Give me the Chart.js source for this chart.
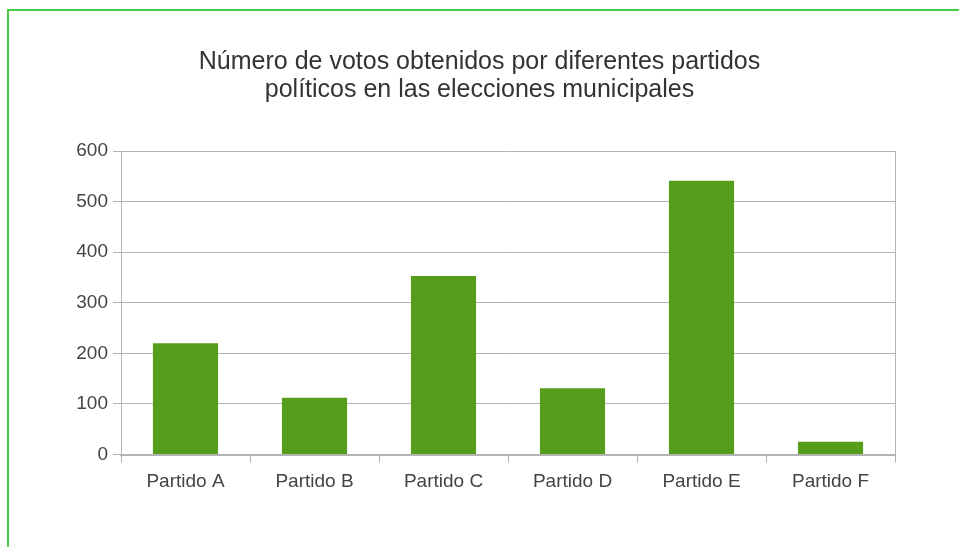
<!DOCTYPE html>
<html>
<head>
<meta charset="utf-8">
<script src="https://cdn.jsdelivr.net/npm/chart.js@4"></script>
<style>
  html, body { margin: 0; padding: 0; background: #fff; }
  #wrap { position: relative; width: 959px; height: 547px; overflow: hidden; }
  #frame { position: absolute; left: 7px; top: 9px; width: 1000px; height: 600px;
           border-left: 2px solid #47cc47; border-top: 2px solid #47cc47; }
  canvas { position: absolute; left: 0; top: 0; }
</style>
</head>
<body>
<div id="wrap">
  <canvas id="chart" width="959" height="547"></canvas>
  <div id="frame"></div>
</div>
<script>
// datos del gráfico
var partidos = ['Partido A', 'Partido B', 'Partido C', 'Partido D', 'Partido E', 'Partido F'];
var votos = [220, 112, 353, 131, 541, 25];
var titulo = ['Número de votos obtenidos por diferentes partidos', 'políticos en las elecciones municipales'];

var gris = '#b3b3b3';
var texto = '#444444';

var ctx = document.getElementById('chart').getContext('2d');
var myChart = new Chart(ctx, {
    type: 'bar',
    data: {
        labels: partidos,
        datasets: [{
            data: votos,
            backgroundColor: '#579d1c',
            borderWidth: 0,
            barPercentage: 1,
            categoryPercentage: 0.505
        }]
    },
    options: {
        responsive: false,
        animation: false,
        layout: { padding: 0 },
        plugins: {
            legend: { display: false },
            tooltip: { enabled: false },
            title: {
                display: true,
                text: titulo,
                color: '#333333',
                font: { family: 'Liberation Sans', size: 25, weight: 'normal', lineHeight: 1.12 },
                padding: { top: 48, bottom: 47 }
            }
        },
        scales: {
            x: {
                grid: {
                    offset: true,
                    color: function(c) { return (c.index === 6) ? gris : 'rgba(0,0,0,0)'; },
                    tickColor: gris,
                    tickLength: 8
                },
                border: { color: gris, width: 2 },
                ticks: {
                    color: texto,
                    padding: 8,
                    font: { family: 'Liberation Sans', size: 19 }
                },
                afterFit: function(s) { s.height = 92.5; }
            },
            y: {
                min: 0,
                max: 600,
                ticks: {
                    stepSize: 100,
                    color: texto,
                    padding: 5,
                    font: { family: 'Liberation Sans', size: 19 }
                },
                grid: { color: gris, tickColor: gris, tickLength: 8 },
                border: { color: gris },
                afterFit: function(s) { s.width = 121; }
            },
            // eje derecho solo para la línea de borde
            y2: {
                position: 'right',
                min: 0,
                max: 600,
                ticks: { display: false },
                grid: { display: false },
                border: { display: true, color: gris },
                afterFit: function(s) { s.width = 64; }
            }
        }
    }
});
</script>
</body>
</html>
